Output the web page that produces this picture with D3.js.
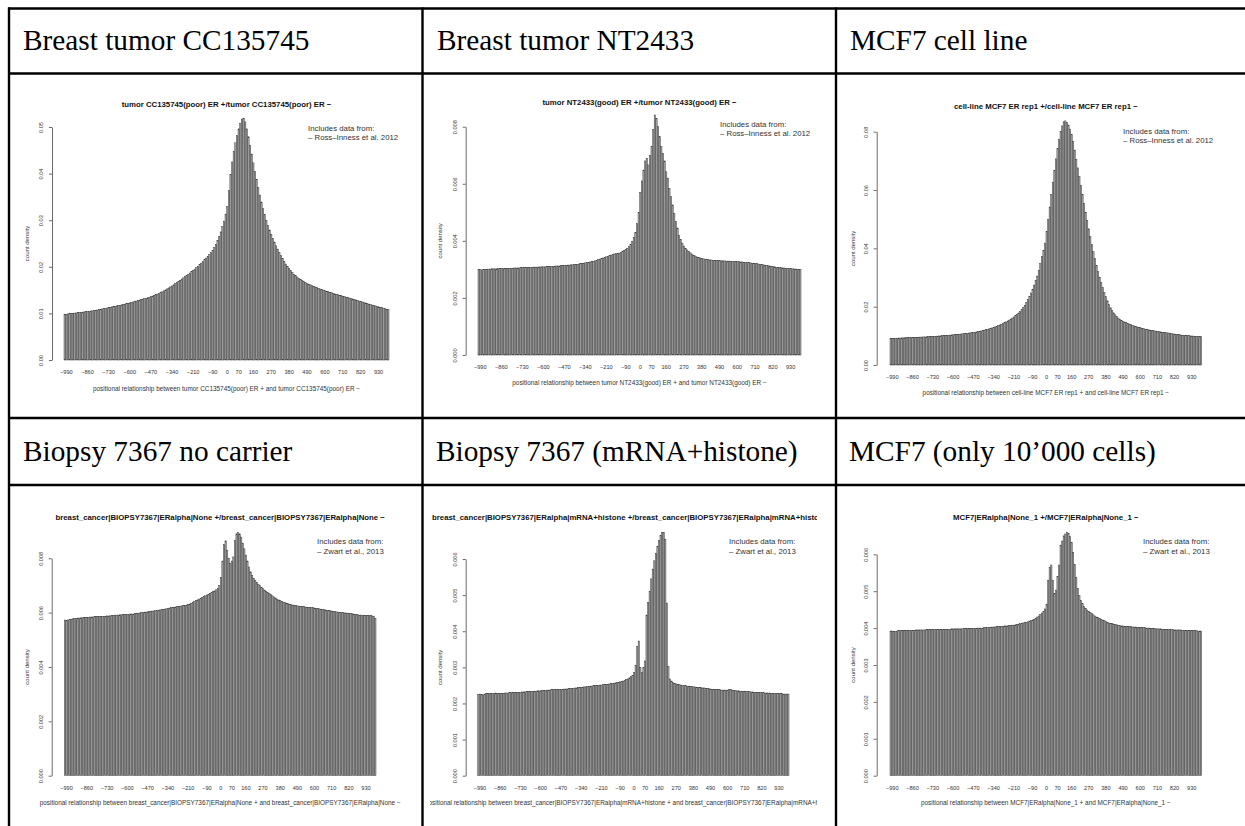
<!DOCTYPE html>
<html lang="en">
<head>
  <meta charset="UTF-8">
  <title>ER binding: positional relationship histograms</title>
  <script src="https://d3js.org/d3.v7.min.js"></script>
  <style>
    body {
      margin: 0;
      background: #fff;
    }
    svg {
      display: block;
    }
    .cell-head {
      font-family: "Liberation Serif", "Times New Roman", serif;
      font-size: 29.3px;
      fill: #000;
    }
    .rplot text {
      font-family: "Liberation Sans", Arial, sans-serif;
      fill: #333;
    }
    .rplot .ptitle {
      font-weight: bold;
      font-size: 7.8px;
      fill: #111;
    }
  </style>
</head>
<body>
  <svg id="chart" width="1245" height="826"></svg>
  <script>
    // bins of the histogram (10 bp each), and the labels R left on the x axis
    const bins = d3.range(-1000, 1000, 10);
    const xTickLabels = [-990, -860, -730, -600, -470, -340, -210, -90, 0, 70, 160, 270, 380, 490, 600, 710, 820, 930];

    const cellHeaders = [
      "Breast tumor CC135745", "Breast tumor NT2433", "MCF7 cell line",
      "Biopsy 7367 no carrier", "Biopsy 7367 (mRNA+histone)", "MCF7 (only 10\u2019000 cells)"
    ];
    const sampleNames = [
      "tumor CC135745(poor) ER",
      "tumor NT2433(good) ER",
      "cell-line MCF7 ER rep1",
      "breast_cancer|BIOPSY7367|ERalpha|None",
      "breast_cancer|BIOPSY7367|ERalpha|mRNA+histone",
      "MCF7|ERalpha|None_1"
    ];
    const legendRoss = ["Includes data from:", "\u2013 Ross\u2013Inness et al. 2012"];
    const legendZwart = ["Includes data from:", "\u2013 Zwart et al., 2013"];

    const yTicksCC = [0, 0.01, 0.02, 0.03, 0.04, 0.05];
    const yTicksNT = [0, 0.002, 0.004, 0.006, 0.008];
    const yTicksMCF7 = [0, 0.02, 0.04, 0.06, 0.08];
    const yTicksNoCarrier = [0, 0.002, 0.004, 0.006, 0.008];
    const yTicksHistone = [0, 0.001, 0.002, 0.003, 0.004, 0.005, 0.006];
    const yTicks10k = [0, 0.001, 0.002, 0.003, 0.004, 0.005, 0.006];

    // count density per bin, in units of 1e-5
    const densCC135745 = [
      980,984,989,993,997,1001,1006,1010,1014,1019,1023,1027,1032,1036,1040,1045,1050,1055,1061,1067,
      1073,1080,1087,1094,1101,1108,1116,1124,1132,1140,1147,1154,1161,1168,1175,1183,1191,1199,1207,1215,
      1225,1235,1245,1255,1265,1275,1285,1295,1305,1315,1325,1335,1347,1360,1373,1386,1400,1414,1428,1443,
      1463,1484,1505,1526,1547,1568,1590,1613,1637,1661,1686,1711,1737,1763,1789,1815,1842,1868,1895,1920,
      1950,1981,2013,2046,2080,2115,2151,2188,2226,2265,2305,2350,2410,2480,2560,2650,2750,2860,2980,3130,
      3300,3640,3980,4250,4470,4660,4820,4960,5080,5170,5190,5110,4960,4790,4610,4420,4230,4050,3870,3700,
      3540,3390,3250,3120,3000,2890,2790,2700,2610,2530,2450,2380,2310,2240,2180,2120,2060,2010,1960,1915,
      1875,1840,1810,1780,1755,1730,1707,1685,1665,1647,1630,1614,1598,1583,1568,1554,1540,1527,1514,1501,
      1489,1477,1465,1454,1443,1432,1421,1410,1400,1390,1380,1370,1360,1350,1340,1330,1320,1310,1300,1290,
      1279,1268,1257,1246,1235,1224,1213,1202,1192,1182,1172,1162,1152,1142,1132,1122,1112,1101,1090,1078
    ];
    const densNT2433 = [
      300,299,298,299,300,300,301,301,302,302,302,302,303,303,303,303,303,303,304,304,
      304,304,305,305,305,305,306,306,306,306,307,307,307,307,308,308,308,308,309,309,
      309,309,310,310,310,311,311,311,312,312,312,313,313,314,314,315,315,316,316,317,
      318,318,319,320,321,322,323,324,325,326,327,328,330,332,334,336,338,340,342,344,
      346,348,350,352,354,355,356,357,359,362,366,370,374,380,388,398,412,430,460,500,
      570,610,648,680,689,666,700,730,790,841,829,800,765,730,707,680,642,620,584,555,
      526,496,467,445,420,405,392,382,374,368,362,358,354,350,347,344,342,340,338,337,
      336,335,334,333,333,332,332,331,331,331,330,330,330,329,329,329,328,328,328,327,
      327,327,326,326,325,325,324,324,323,322,321,321,320,319,318,317,316,315,314,313,
      312,311,310,309,308,307,307,306,305,305,304,304,303,303,302,302,301,301,300,300
    ];
    const densMCF7 = [
      910,912,915,918,920,923,925,928,930,933,935,938,940,942,945,947,950,952,954,957,
      959,962,964,967,970,973,976,980,984,988,992,996,1000,1004,1008,1012,1016,1021,1026,1031,
      1036,1041,1046,1051,1057,1062,1068,1074,1080,1086,1093,1100,1108,1116,1125,1134,1144,1155,1167,1180,
      1194,1208,1223,1238,1254,1271,1289,1308,1328,1350,1373,1397,1423,1450,1478,1508,1540,1574,1610,1648,
      1690,1735,1785,1840,1900,1970,2050,2140,2240,2350,2470,2600,2740,2890,3050,3250,3480,3720,3930,4180,
      4580,4990,5420,5850,6270,6680,7070,7420,7740,8000,8200,8340,8370,8320,8230,8090,7900,7660,7370,7050,
      6760,6460,6160,5850,5540,5240,4950,4670,4400,4140,3890,3650,3420,3210,3010,2820,2650,2490,2340,2200,
      2070,1960,1870,1790,1720,1660,1610,1565,1525,1500,1475,1450,1427,1405,1384,1364,1345,1327,1310,1294,
      1278,1263,1249,1236,1224,1212,1201,1190,1180,1170,1161,1152,1143,1135,1127,1119,1112,1105,1098,1091,
      1080,1070,1061,1052,1044,1037,1030,1024,1018,1013,1008,1003,999,995,991,987,983,979,975,971
    ];
    const densNoCarrier = [
      573,572,573,574,576,577,578,579,580,580,581,581,582,582,583,583,584,584,584,585,
      585,585,586,586,586,587,587,588,588,588,589,590,590,591,591,592,592,593,593,594,
      594,594,595,595,595,596,597,598,599,600,601,602,602,603,604,605,606,606,607,608,
      609,610,611,612,613,614,615,617,618,619,620,621,622,623,624,625,626,627,628,630,
      632,635,638,641,644,647,650,653,656,659,662,665,668,671,674,677,680,684,690,700,
      730,790,850,864,830,800,782,790,805,865,890,896,890,878,856,835,812,790,768,750,
      737,727,719,712,705,699,693,688,683,678,674,670,666,662,658,654,650,647,644,641,
      639,637,635,633,631,629,628,627,626,625,624,623,622,622,621,620,620,619,619,618,
      617,616,615,614,613,612,611,610,609,608,607,606,605,604,603,602,601,600,600,599,
      599,598,598,597,596,595,594,593,592,591,591,590,590,589,589,589,589,588,586,579
    ];
    const densHistone = [
      225,226,225,224,226,227,227,227,228,228,228,229,228,228,227,228,228,229,229,229,
      230,230,230,230,231,231,231,231,232,232,232,233,233,233,233,234,234,234,235,235,
      235,236,236,236,237,237,237,238,238,238,238,239,239,239,239,240,240,240,241,241,
      242,242,243,243,244,244,245,245,246,246,247,247,248,248,249,249,250,250,251,251,
      252,252,253,253,254,255,255,256,257,258,259,260,261,262,264,266,268,271,274,277,
      285,305,358,373,300,285,300,318,445,480,510,545,572,595,615,635,652,665,673,674,
      655,478,302,268,262,258,256,254,253,252,251,250,249,249,248,248,247,247,246,246,
      245,245,244,244,243,243,242,242,241,240,239,239,239,238,238,238,237,237,237,237,
      237,238,238,237,236,236,235,235,234,234,234,234,233,233,233,232,232,231,231,231,
      230,230,230,230,229,229,229,229,228,228,228,228,227,227,227,227,226,226,226,226
    ];
    const dens10k = [
      392,392,391,391,392,393,393,393,393,393,394,394,394,394,394,394,395,395,395,395,
      395,395,395,396,396,396,396,396,396,396,396,397,397,397,397,397,397,397,397,398,
      398,398,398,398,398,398,398,399,399,399,399,399,399,399,399,399,400,400,400,400,
      401,401,401,402,402,403,403,403,404,404,405,405,405,406,406,406,407,407,408,408,
      409,410,411,412,413,414,415,416,417,419,420,422,424,427,430,433,437,441,445,452,
      465,530,565,571,530,494,503,540,571,625,636,650,655,660,656,648,632,605,572,538,
      508,488,475,466,459,453,449,445,442,439,436,433,430,428,426,424,422,420,418,416,
      414,413,412,411,410,409,408,407,406,406,405,405,404,404,404,403,403,403,402,402,
      402,401,401,401,400,400,400,399,399,399,398,398,398,398,397,397,397,397,396,396,
      396,396,395,395,395,395,395,394,394,394,394,394,393,393,393,393,393,392,392,392
    ];
    const unit = 1e-5;

    const panels = [
      { legend: legendRoss, yTicks: yTicksCC, fmt: ".2f", values: densCC135745 },
      { legend: legendRoss, yTicks: yTicksNT, fmt: ".3f", values: densNT2433 },
      { legend: legendRoss, yTicks: yTicksMCF7, fmt: ".2f", values: densMCF7 },
      { legend: legendZwart, yTicks: yTicksNoCarrier, fmt: ".3f", values: densNoCarrier },
      { legend: legendZwart, yTicks: yTicksHistone, fmt: ".3f", values: densHistone },
      { legend: legendZwart, yTicks: yTicks10k, fmt: ".3f", values: dens10k }
    ];

    // where each pasted R figure sits inside its table cell
    const frames = [
      { hx: 23,  hy: 50,    clip: [11, 421, 75, 417],    axisX: 52,    barL: 64,    barR: 389,    y0: 360,   yTop: 127,   titleY: 104,   tickY: 372,   xTitleY: 388,   legX: 308,  legY: 128,   ylabX: 27 },
      { hx: 437, hy: 50,    clip: [424, 835, 75, 417],   axisX: 465.7, barL: 478,   barR: 801,    y0: 355,   yTop: 126.7, titleY: 102,   tickY: 367,   xTitleY: 382,   legX: 720,  legY: 124,   ylabX: 440 },
      { hx: 850, hy: 50,    clip: [838, 1245, 75, 417],  axisX: 876.7, barL: 890,   barR: 1201.7, y0: 365,   yTop: 131.7, titleY: 106.7, tickY: 376.7, xTitleY: 392,   legX: 1123, legY: 131,   ylabX: 853 },
      { hx: 23,  hy: 460.7, clip: [11, 421, 487, 826],   axisX: 51.7,  barL: 64.3,  barR: 376,    y0: 775.7, yTop: 558.3, titleY: 517.7, tickY: 787.7, xTitleY: 802.3, legX: 317,  legY: 541.7, ylabX: 27 },
      { hx: 436, hy: 460.7, clip: [430, 817, 487, 826],  axisX: 465.7, barL: 477.7, barR: 789,    y0: 775.7, yTop: 559,   titleY: 517.7, tickY: 787.7, xTitleY: 802,   legX: 729,  legY: 541.7, ylabX: 440 },
      { hx: 849, hy: 460.7, clip: [838, 1245, 487, 826], axisX: 876.7, barL: 890,   barR: 1201.7, y0: 775.7, yTop: 554.3, titleY: 517.7, tickY: 787.7, xTitleY: 802.7, legX: 1143, legY: 541.7, ylabX: 853 }
    ];

    const svg = d3.select("#chart");
    const xFormat = d3.format("d");

    panels.forEach((p, k) => {
      const f = frames[k];
      const name = sampleNames[k];

      svg.append("text")
         .attr("class", "cell-head")
         .attr("x", f.hx)
         .attr("y", f.hy)
         .text(cellHeaders[k]);

      svg.append("clipPath")
         .attr("id", "clip" + k)
         .append("rect")
         .attr("x", f.clip[0])
         .attr("y", f.clip[2])
         .attr("width", f.clip[1] - f.clip[0])
         .attr("height", f.clip[3] - f.clip[2]);

      const g = svg.append("g")
                   .attr("class", "rplot")
                   .attr("clip-path", "url(#clip" + k + ")");

      const x = d3.scaleBand()
                  .domain(bins)
                  .range([f.barL, f.barR])
                  .paddingInner(0.2 / 1.2)
                  .paddingOuter(0);

      const y = d3.scaleLinear()
                  .domain([0, p.yTicks[p.yTicks.length - 1]])
                  .range([f.y0, f.yTop]);

      // bars
      g.append("g")
       .selectAll("rect")
       .data(p.values)
       .join("rect")
       .attr("x", (d, i) => x(bins[i]))
       .attr("width", x.bandwidth())
       .attr("y", d => y(d * unit))
       .attr("height", d => f.y0 - y(d * unit))
       .attr("fill", "#a6a6a6")
       .attr("stroke", "#333")
       .attr("stroke-width", 0.45);

      // y axis, R style with labels parallel to the axis
      const yAxis = g.append("g")
                     .attr("transform", "translate(" + f.axisX + ",0)")
                     .call(d3.axisLeft(y)
                             .tickValues(p.yTicks)
                             .tickFormat(d3.format(p.fmt))
                             .tickSize(3)
                             .tickSizeOuter(0));
      yAxis.select(".domain").attr("stroke", "#444").attr("stroke-width", 0.8);
      yAxis.selectAll(".tick line").attr("stroke", "#444").attr("stroke-width", 0.8);
      yAxis.selectAll(".tick text")
           .attr("transform", "rotate(-90)")
           .attr("x", 0)
           .attr("y", -11)
           .attr("dy", 0)
           .attr("dominant-baseline", "central")
           .attr("text-anchor", "middle")
           .style("font-size", "5.6px")
           .style("font-family", "'Liberation Sans', Arial, sans-serif")
           .attr("fill", "#333");

      // x labels only (barplot names)
      const xAxis = g.append("g")
                     .attr("transform", "translate(0," + f.tickY + ")")
                     .call(d3.axisBottom(x)
                             .tickValues(xTickLabels)
                             .tickFormat(xFormat)
                             .tickSize(0));
      xAxis.select(".domain").remove();
      xAxis.selectAll(".tick text")
           .attr("y", 0)
           .attr("dy", 0)
           .attr("dominant-baseline", "central")
           .style("font-size", "5.6px")
           .style("font-family", "'Liberation Sans', Arial, sans-serif")
           .attr("fill", "#333");

      const midX = (f.barL + f.barR) / 2;

      g.append("text")
       .attr("class", "ptitle")
       .attr("x", midX)
       .attr("y", f.titleY)
       .attr("text-anchor", "middle")
       .attr("dominant-baseline", "central")
       .text(name + " +/" + name + " \u2212");

      g.append("text")
       .attr("x", midX)
       .attr("y", f.xTitleY)
       .attr("text-anchor", "middle")
       .attr("dominant-baseline", "central")
       .style("font-size", "6.4px")
       .text("positional relationship between " + name + " + and " + name + " \u2212");

      g.append("text")
       .attr("transform", "translate(" + f.ylabX + "," + ((f.y0 + f.yTop) / 2) + ") rotate(-90)")
       .attr("text-anchor", "middle")
       .attr("dominant-baseline", "central")
       .style("font-size", "6px")
       .text("count density");

      p.legend.forEach((line, j) => {
        g.append("text")
         .attr("x", f.legX)
         .attr("y", f.legY + j * 9.5)
         .attr("dominant-baseline", "central")
         .style("font-size", "7.8px")
         .text(line);
      });
    });

    // table rules
    const rules = svg.append("g")
                     .attr("stroke", "#000")
                     .attr("stroke-width", 2.4);
    [8.5, 73.5, 418, 485].forEach(yy => {
      rules.append("line").attr("x1", 8).attr("x2", 1245).attr("y1", yy).attr("y2", yy);
    });
    [9, 422.5, 836].forEach(xx => {
      rules.append("line").attr("x1", xx).attr("x2", xx).attr("y1", 7.5).attr("y2", 826);
    });
  </script>
</body>
</html>
